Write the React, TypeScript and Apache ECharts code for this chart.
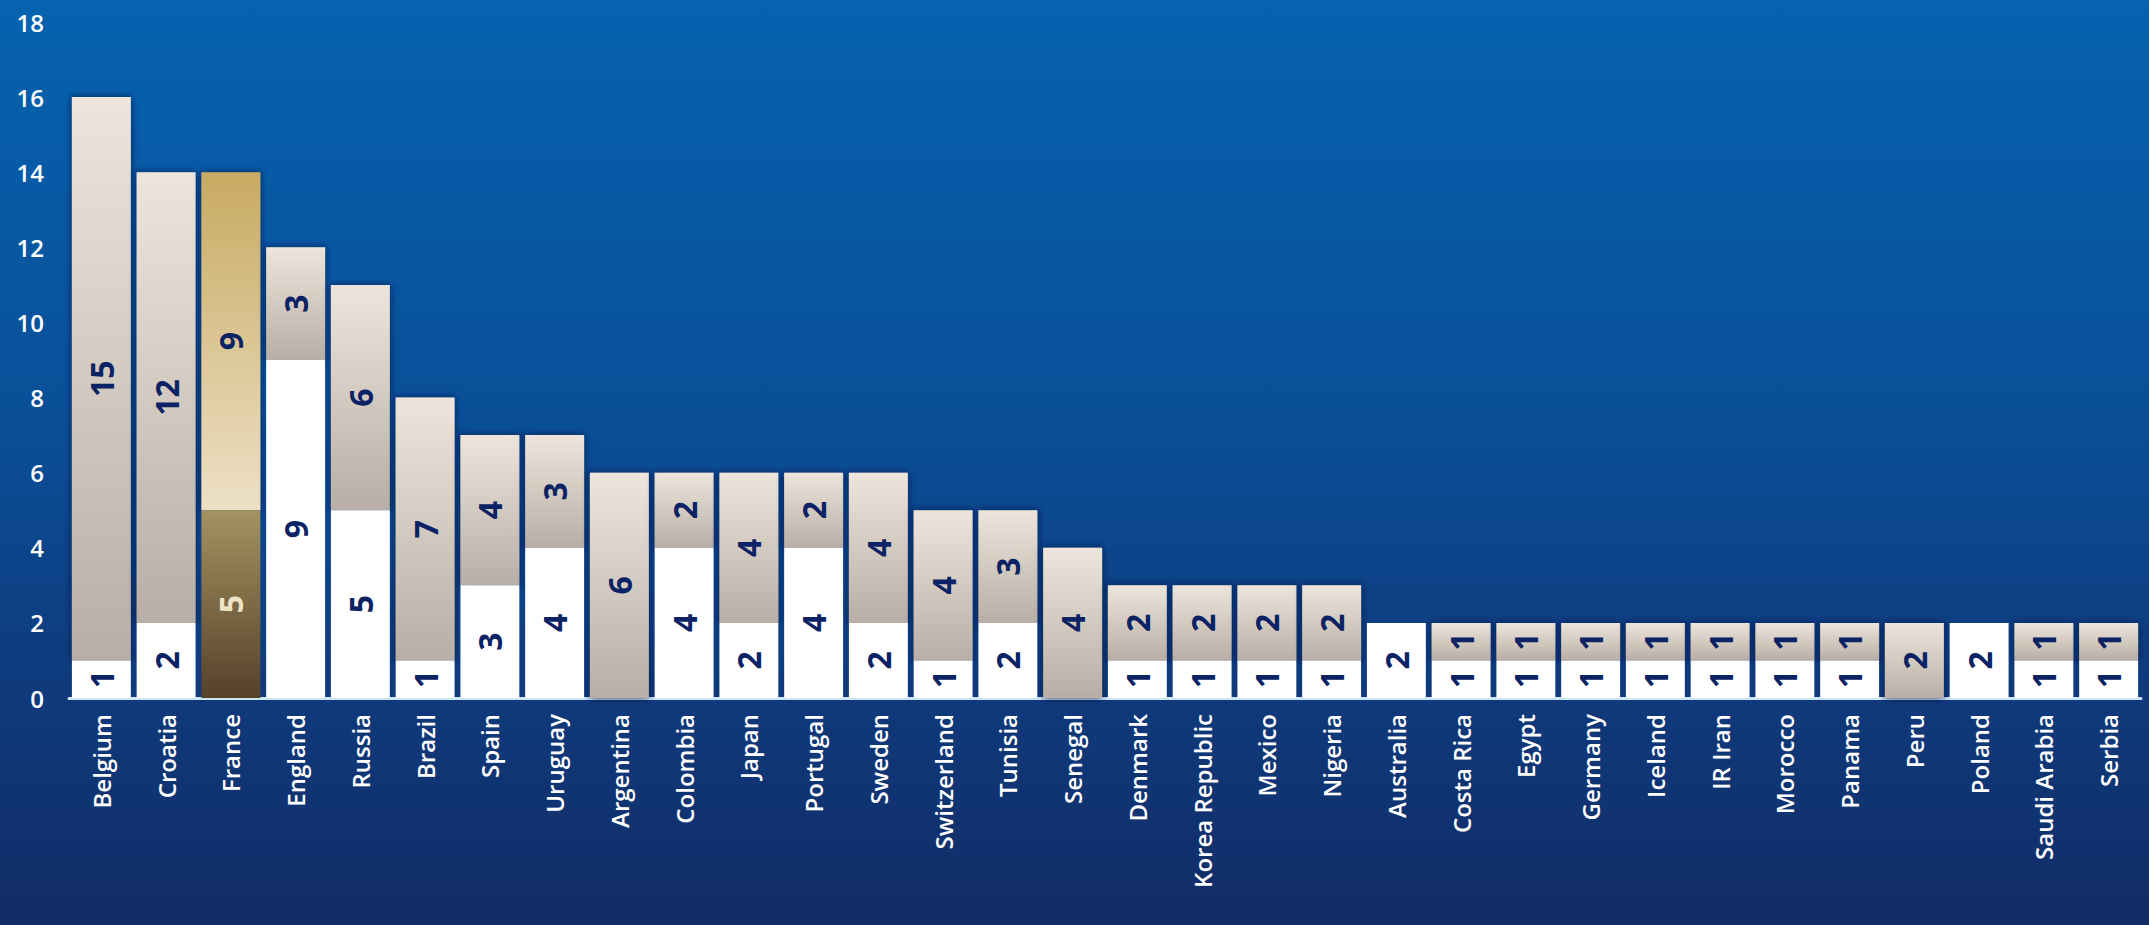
import React, { useEffect, useRef } from "react";
import * as echarts from "echarts";

const countries = [
  "Belgium", "Croatia", "France", "England", "Russia", "Brazil", "Spain", "Uruguay",
  "Argentina", "Colombia", "Japan", "Portugal", "Sweden", "Switzerland", "Tunisia", "Senegal",
  "Denmark", "Korea Republic", "Mexico", "Nigeria", "Australia", "Costa Rica", "Egypt", "Germany",
  "Iceland", "IR Iran", "Morocco", "Panama", "Peru", "Poland", "Saudi Arabia", "Serbia",
];
const bottomValues = [1, 2, 5, 9, 5, 1, 3, 4, 0, 4, 2, 4, 2, 1, 2, 0, 1, 1, 1, 1, 2, 1, 1, 1, 1, 1, 1, 1, 0, 2, 1, 1];
const topValues = [15, 12, 9, 3, 6, 7, 4, 3, 6, 2, 4, 2, 4, 4, 3, 4, 2, 2, 2, 2, 0, 1, 1, 1, 1, 1, 1, 1, 2, 0, 1, 1];
const highlight = "France";
const yTicks = [0, 2, 4, 6, 8, 10, 12, 14, 16, 18];

const FONT = "'Open Sans', Lato, sans-serif";
const NAVY = "#0b2264";

const grad = (a: string, b: string) =>
  new echarts.graphic.LinearGradient(0, 0, 0, 1, [
    { offset: 0, color: a },
    { offset: 1, color: b },
  ]);

export default function App() {
  const ref = useRef<HTMLDivElement>(null);
  useEffect(() => {
    if (!ref.current) return;
    const chart = echarts.init(ref.current, null, { renderer: "svg" });
    const shadow = {
      shadowColor: "rgba(4, 22, 70, 0.9)",
      shadowBlur: 7,
      shadowOffsetX: 0,
      shadowOffsetY: 0,
    };
    const bottomData = bottomValues.map((v, i) =>
      countries[i] === highlight
        ? {
            value: v,
            itemStyle: { color: grad("#a39361", "#56412a") },
            label: { color: "#efe3c6" },
          }
        : v
    );
    const topData = topValues.map((v, i) =>
      countries[i] === highlight
        ? { value: v, itemStyle: { color: grad("#c8aa61", "#ede0c6"), ...shadow } }
        : v
    );
    const labelCfg = {
      show: true,
      position: "inside",
      rotate: 90,
      color: NAVY,
      fontSize: 32,
      fontWeight: "bold",
      fontFamily: FONT,
      formatter: (p: any) => (p.value ? String(p.value) : ""),
    };
    chart.setOption({
      animation: false,
      backgroundColor: new echarts.graphic.LinearGradient(0, 0, 0, 1, [
        { offset: 0, color: "#0663b0" },
        { offset: 0.45, color: "#0a4f98" },
        { offset: 0.75, color: "#0f3a7c" },
        { offset: 1, color: "#122c66" },
      ]),
      grid: { left: 69, right: 8, top: 22, bottom: 227, containLabel: false },
      xAxis: {
        type: "category",
        data: countries,
        axisLine: { show: true, lineStyle: { color: "#cfe6f6", width: 3 } },
        axisTick: { show: false },
        axisLabel: {
          rotate: 90,
          interval: 0,
          color: "#ffffff",
          fontSize: 24,
          fontFamily: FONT,
          fontWeight: 600,
          margin: 16,
        },
      },
      yAxis: {
        type: "value",
        min: 0,
        max: 18,
        interval: 2,
        splitLine: { show: false },
        axisLine: { show: false },
        axisTick: { show: false },
        axisLabel: {
          color: "#ffffff",
          fontSize: 24,
          fontFamily: FONT,
          fontWeight: 600,
          margin: 25,
          formatter: (v: number) => (yTicks.includes(v) ? String(v) : ""),
        },
      },
      series: [
        {
          type: "bar",
          name: "bottom",
          stack: "total",
          z: 3,
          data: bottomData,
          barCategoryGap: "9%",
          itemStyle: { color: "#ffffff" },
          label: labelCfg,
        },
        {
          type: "bar",
          name: "top",
          stack: "total",
          z: 2,
          data: topData,
          barCategoryGap: "9%",
          itemStyle: { color: grad("#ede5db", "#b8aea5"), ...shadow },
          label: labelCfg,
        },
      ],
    });
    return () => chart.dispose();
  }, []);
  return (
    <div
      ref={ref}
      style={{ position: "fixed", left: 0, top: 0, width: 2149, height: 925 }}
    />
  );
}
